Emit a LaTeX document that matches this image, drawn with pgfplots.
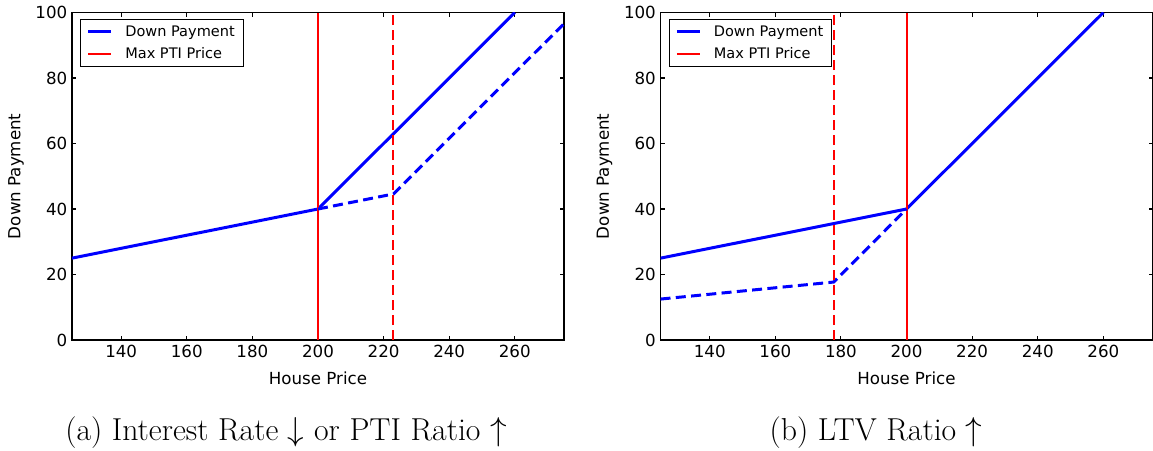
\documentclass[border=0pt]{standalone}
\usepackage{fontspec}
\newfontfamily\dejavu{DejaVu Sans}
\usepackage{pgfplots}
\pgfplotsset{compat=1.18}

\pgfplotsset{
  panel/.style={
    scale only axis, width=369pt, height=245.6pt,
    xmin=125, xmax=275, ymin=0, ymax=100,
    xtick={140,160,...,260}, ytick={0,20,...,100},
    tick align=inside, major tick length=3pt,
    axis line style={line width=0.8pt},
    every tick/.style={black, line width=0.8pt},
    tick label style={font=\dejavu\fontsize{12.5}{15}\selectfont},
    /pgf/number format/assume math mode=true,
    xlabel={House Price}, ylabel={Down Payment},
    label style={font=\dejavu\fontsize{12.5}{15}\selectfont},
    xlabel style={at={(axis description cs:0.5,-0.116)}, anchor=center},
    ylabel style={at={(axis description cs:-0.1136,0.5)}, anchor=center},
    legend style={at={(axis description cs:0.017,0.98)}, anchor=north west,
      font=\dejavu\fontsize{10.9}{13}\selectfont, draw=black, line width=0.8pt,
      row sep=3.25pt, column sep=7.5pt, inner xsep=4.5pt, inner ysep=2.5pt},
    legend cell align=left,
  },
  bsolid/.style={blue, line width=2.25pt, mark=none},
  bdash/.style={blue, line width=2.25pt, mark=none, dash pattern=on 7.5pt off 4pt},
  rsolid/.style={red, line width=1.5pt, mark=none},
  rdash/.style={red, line width=1.5pt, mark=none, dash pattern=on 7.5pt off 3.75pt},
}

\begin{document}
\begin{tikzpicture}
\path[use as bounding box] (0pt,0pt) rectangle (864.75pt,-337.5pt);

% (a) interest rate / PTI ratio
\begin{axis}[panel, anchor=south west, at={(54pt,-255pt)}]
  \addplot[bsolid] coordinates {(125,25) (200,40) (260,100)};
  \addlegendentry{Down Payment}
  \addplot[rsolid] coordinates {(200,0) (200,100)};
  \addlegendentry{Max PTI Price}
  \addplot[bdash, forget plot] coordinates {(200,40) (223,44.6) (275,96.6)};
  \addplot[rdash, forget plot] coordinates {(223,0) (223,100)};
\end{axis}

% (b) LTV ratio
\begin{axis}[panel, anchor=south west, at={(495.4pt,-255pt)}]
  \addplot[bsolid] coordinates {(125,25) (200,40) (260,100)};
  \addlegendentry{Down Payment}
  \addplot[rsolid] coordinates {(200,0) (200,100)};
  \addlegendentry{Max PTI Price}
  \addplot[bdash, forget plot] coordinates {(125,12.5) (177.8,17.7) (200,40)};
  \addplot[rdash, forget plot] coordinates {(177.8,0) (177.8,100)};
\end{axis}

\node[font=\fontsize{23.8}{28}\selectfont] at (214.5pt,-324.75pt) {(a) Interest Rate $\downarrow$ or PTI Ratio $\uparrow$};
\node[font=\fontsize{23.8}{28}\selectfont] at (657pt,-324.75pt) {(b) LTV Ratio $\uparrow$};
\end{tikzpicture}
\end{document}
